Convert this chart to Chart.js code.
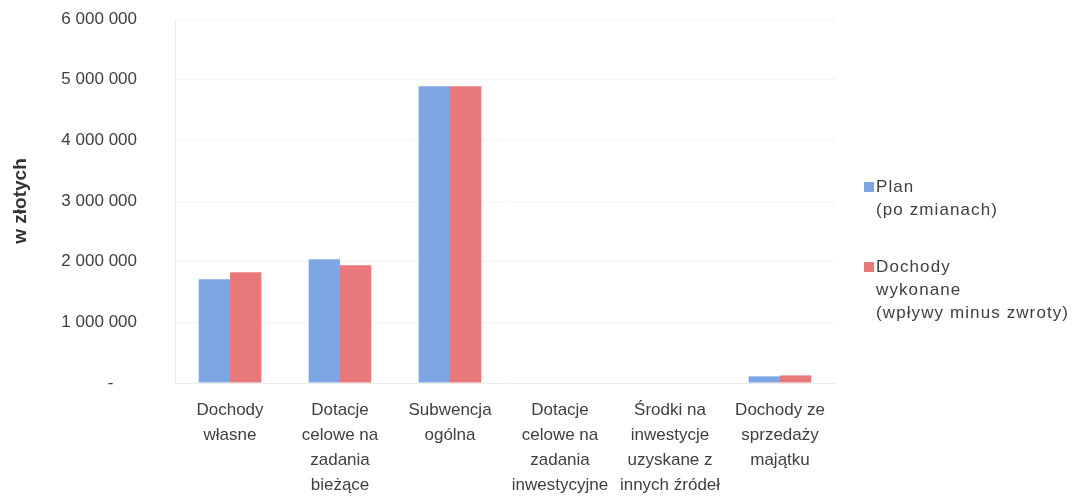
<!DOCTYPE html>
<html>
<head>
<meta charset="utf-8">
<script src="https://cdn.jsdelivr.net/npm/chart.js@4.4.1/dist/chart.umd.min.js"></script>
<style>
  html, body { margin: 0; padding: 0; background: #fff; }
  #wrap { position: relative; width: 1076px; height: 497px; }
  #legend { position: absolute; left: 864px; top: 175px; font-family: "Liberation Sans", Arial, sans-serif;
            font-size: 17px; letter-spacing: 1.1px; color: #404040; line-height: 23px; }
  #legend .item { position: relative; padding-left: 12px; margin-bottom: 34px; }
  #legend .box { position: absolute; left: 0; top: 7px; width: 10px; height: 10px; }
</style>
</head>
<body>
<div id="wrap">
  <canvas id="myChart" width="1076" height="497"></canvas>
  <div id="legend"></div>
</div>
<script>
const categories = [
  ["Dochody", "własne"],
  ["Dotacje", "celowe na", "zadania", "bieżące"],
  ["Subwencja", "ogólna"],
  ["Dotacje", "celowe na", "zadania", "inwestycyjne"],
  ["Środki na", "inwestycje", "uzyskane z", "innych źródeł"],
  ["Dochody ze", "sprzedaży", "majątku"]
];
const planValues = [1710000, 2040000, 4890000, 0, 0, 110000];
const wykonaneValues = [1825000, 1940000, 4890000, 0, 0, 125000];
const seriesLabels = [["Plan", "(po zmianach)"], ["Dochody", "wykonane", "(wpływy minus zwroty)"]];
const seriesColors = ["#7ea6e4", "#e8787a"];

function fmt(v) {
  if (v === 0) return "-\u00a0\u00a0\u00a0\u00a0\u00a0";
  return String(v).replace(/\B(?=(\d{3})+(?!\d))/g, " ");
}

Chart.defaults.font.family = '"Liberation Sans", Arial, sans-serif';
Chart.defaults.font.size = 17;
Chart.defaults.color = "#404040";

var ctx = document.getElementById("myChart").getContext("2d");
const chart = new Chart(ctx, {
  type: "bar",
  data: {
    labels: categories,
    datasets: [
      { label: seriesLabels[0].join(" "), data: planValues, backgroundColor: seriesColors[0] },
      { label: seriesLabels[1].join(" "), data: wykonaneValues, backgroundColor: seriesColors[1] }
    ]
  },
  options: {
    responsive: false,
    animation: false,
    layout: { padding: { top: 19, right: 241, bottom: 0, left: 0 } },
    datasets: { bar: { categoryPercentage: 0.57, barPercentage: 1.0 } },
    plugins: { legend: { display: false }, tooltip: { enabled: false } },
    scales: {
      x: {
        grid: { display: false },
        border: { color: "#ececec" },
        ticks: { maxRotation: 0, autoSkip: false, padding: 7, font: { size: 17, lineHeight: 1.47 } },
        afterFit: function (s) { s.height = 497 - 383; s.paddingTop = 0; s.paddingBottom = 0; }
      },
      y: {
        min: 0, max: 6000000,
        grid: { color: "#f3f3f3", drawTicks: false },
        border: { color: "#ececec" },
        ticks: { stepSize: 1000000, padding: 38, callback: function (v) { return fmt(v); } },
        title: { display: true, text: "w złotych", font: { size: 19, weight: "bold" }, color: "#333",
                 padding: { top: 9, bottom: 0 } },
        afterFit: function (s) { s.width = 175; s.paddingTop = 0; s.paddingBottom = 0; }
      }
    }
  }
});

// legend with wrapped labels
const leg = document.getElementById("legend");
seriesLabels.forEach(function (lines, i) {
  const item = document.createElement("div");
  item.className = "item";
  item.innerHTML = '<span class="box" style="background:' + seriesColors[i] + '"></span>' + lines.join("<br>");
  leg.appendChild(item);
});
</script>
</body>
</html>
